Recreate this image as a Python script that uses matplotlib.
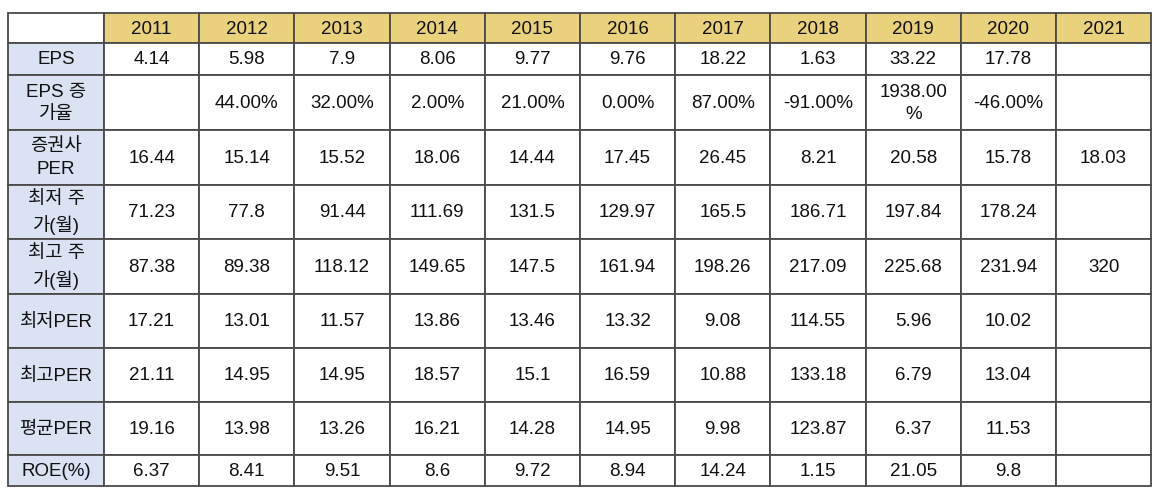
import matplotlib.pyplot as plt
from matplotlib.patches import Rectangle

plt.rcParams['font.family'] = ['Liberation Sans', 'Noto Sans CJK KR', 'DejaVu Sans']

# table content
years = ["2011", "2012", "2013", "2014", "2015", "2016", "2017", "2018", "2019", "2020", "2021"]
row_labels = ["EPS", "EPS 증\n가율", "증권사\nPER", "최저 주\n가(월)", "최고 주\n가(월)",
              "최저PER", "최고PER", "평균PER", "ROE(%)"]
eps = ["4.14", "5.98", "7.9", "8.06", "9.77", "9.76", "18.22", "1.63", "33.22", "17.78", ""]
eps_growth = ["", "44.00%", "32.00%", "2.00%", "21.00%", "0.00%", "87.00%", "-91.00%",
              "1938.00\n%", "-46.00%", ""]
broker_per = ["16.44", "15.14", "15.52", "18.06", "14.44", "17.45", "26.45", "8.21", "20.58",
              "15.78", "18.03"]
low_price = ["71.23", "77.8", "91.44", "111.69", "131.5", "129.97", "165.5", "186.71", "197.84",
             "178.24", ""]
high_price = ["87.38", "89.38", "118.12", "149.65", "147.5", "161.94", "198.26", "217.09",
              "225.68", "231.94", "320"]
low_per = ["17.21", "13.01", "11.57", "13.86", "13.46", "13.32", "9.08", "114.55", "5.96",
           "10.02", ""]
high_per = ["21.11", "14.95", "14.95", "18.57", "15.1", "16.59", "10.88", "133.18", "6.79",
            "13.04", ""]
avg_per = ["19.16", "13.98", "13.26", "16.21", "14.28", "14.95", "9.98", "123.87", "6.37",
           "11.53", ""]
roe = ["6.37", "8.41", "9.51", "8.6", "9.72", "8.94", "14.24", "1.15", "21.05", "9.8", ""]
rows = [eps, eps_growth, broker_per, low_price, high_price, low_per, high_per, avg_per, roe]

# layout in pixels
W, H = 1161, 493
x_left, first_w, col_w = 8, 96, 95.2
row_edges = [13, 43, 75, 130, 184.5, 239, 294, 348, 402, 455, 486]
header_color = "#EAD27C"
label_color = "#DAE2F4"
line_color = "#4a4a4a"
fs = 13.5

fig = plt.figure(figsize=(W / 100, H / 100), dpi=100)
ax = fig.add_axes([0, 0, 1, 1])
ax.set_xlim(0, W)
ax.set_ylim(H, 0)
ax.axis("off")

col_edges = [x_left, x_left + first_w]
for _ in years:
    col_edges.append(col_edges[-1] + col_w)

n_rows = len(row_edges) - 1
n_cols = len(col_edges) - 1

for r in range(n_rows):
    for c in range(n_cols):
        x0, x1 = col_edges[c], col_edges[c + 1]
        y0, y1 = row_edges[r], row_edges[r + 1]
        if r == 0 and c > 0:
            fc = header_color
        elif c == 0 and r > 0:
            fc = label_color
        else:
            fc = "white"
        ax.add_patch(Rectangle((x0, y0), x1 - x0, y1 - y0, facecolor=fc,
                               edgecolor=line_color, linewidth=1.3))
        if r == 0:
            txt = years[c - 1] if c > 0 else ""
        elif c == 0:
            txt = row_labels[r - 1]
        else:
            txt = rows[r - 1][c - 1]
        if txt:
            ax.text((x0 + x1) / 2, (y0 + y1) / 2 + 1, txt, ha="center", va="center",
                    fontsize=fs, color="#111111", linespacing=1.45)

fig.savefig("out.png", dpi=100)
